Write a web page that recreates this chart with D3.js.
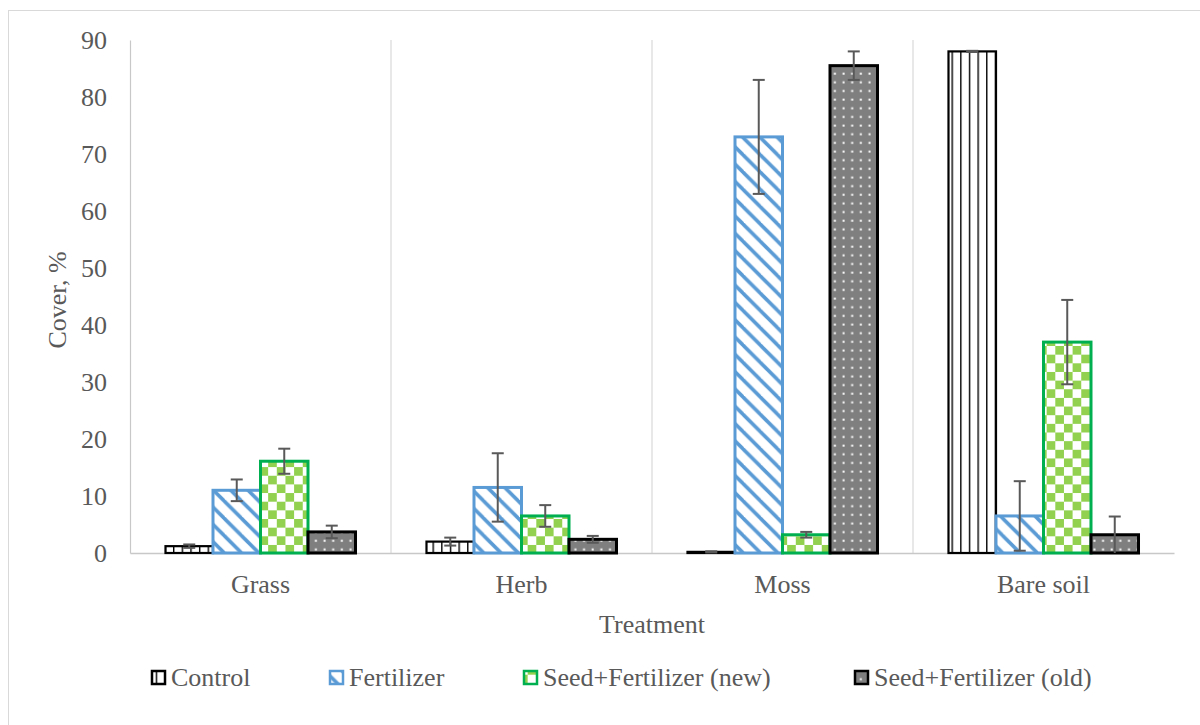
<!DOCTYPE html>
<html>
<head>
<meta charset="utf-8">
<script src="https://cdn.jsdelivr.net/npm/d3@7"></script>
<style>
  html, body { margin: 0; padding: 0; background: #fff; }
  svg { display: block; }
  text { font-family: "Liberation Serif", "Times New Roman", serif; fill: #595959; }
</style>
</head>
<body>
<svg id="chart" width="1200" height="725"></svg>
<script>
// Ground cover by vegetation type and treatment
const categories = ["Grass", "Herb", "Moss", "Bare soil"];
const seriesNames = ["Control", "Fertilizer", "Seed+Fertilizer (new)", "Seed+Fertilizer (old)"];

const controlValues = [1.2, 2.0, 0.2, 88.0];
const fertilizerValues = [11.0, 11.5, 73.0, 6.5];
const seedNewValues = [16.1, 6.5, 3.2, 37.0];
const seedOldValues = [3.7, 2.4, 85.5, 3.2];

const controlErrors = [0.3, 0.7, 0.1, 0.1];
const fertilizerErrors = [1.9, 6.0, 10.0, 6.1];
const seedNewErrors = [2.2, 1.9, 0.5, 7.4];
const seedOldErrors = [1.1, 0.6, 2.5, 3.2];

const yTicks = [0, 10, 20, 30, 40, 50, 60, 70, 80, 90];

const seriesValues = [controlValues, fertilizerValues, seedNewValues, seedOldValues];
const seriesErrors = [controlErrors, fertilizerErrors, seedNewErrors, seedOldErrors];

const svg = d3.select("#chart");

// outer frame of the chart area
svg.append("rect")
  .attr("x", 8.5).attr("y", 10.5)
  .attr("width", 1230).attr("height", 760)
  .attr("fill", "#fff").attr("stroke", "#d9d9d9").attr("stroke-width", 1);

// ---------- fill patterns ----------
const defs = svg.append("defs");
const P = 17.3; // tile size of the hatch patterns

// Control: narrow vertical lines
const pCtrl = defs.append("pattern").attr("id", "pat-control")
  .attr("patternUnits", "userSpaceOnUse").attr("width", P / 2).attr("height", P);
pCtrl.append("rect").attr("width", P / 2).attr("height", P).attr("fill", "#fff");
pCtrl.append("rect").attr("x", 0).attr("width", 1.4).attr("height", P).attr("fill", "#000");

// Fertilizer: wide downward diagonal
const pFert = defs.append("pattern").attr("id", "pat-fert")
  .attr("patternUnits", "userSpaceOnUse").attr("width", P).attr("height", P);
pFert.append("rect").attr("width", P).attr("height", P).attr("fill", "#fff");
[[-P, 0], [0, 0], [0, -P]].forEach(([dx, dy]) => {
  pFert.append("line")
    .attr("x1", dx).attr("y1", dy).attr("x2", dx + 2 * P).attr("y2", dy + 2 * P)
    .attr("stroke", "#5b9bd5").attr("stroke-width", 3.6);
});

// Seed+Fertilizer (new): large checkerboard
const pNew = defs.append("pattern").attr("id", "pat-new")
  .attr("patternUnits", "userSpaceOnUse").attr("width", P).attr("height", P);
pNew.append("rect").attr("width", P).attr("height", P).attr("fill", "#fff");
pNew.append("rect").attr("x", 0).attr("y", 0).attr("width", P / 2).attr("height", P / 2).attr("fill", "#92d050");
pNew.append("rect").attr("x", P / 2).attr("y", P / 2).attr("width", P / 2).attr("height", P / 2).attr("fill", "#92d050");

// Seed+Fertilizer (old): dotted grey
const pOld = defs.append("pattern").attr("id", "pat-old")
  .attr("patternUnits", "userSpaceOnUse").attr("width", P / 2).attr("height", P / 2);
pOld.append("rect").attr("width", P / 2).attr("height", P / 2).attr("fill", "#7f7f7f");
pOld.append("rect").attr("x", 3.5).attr("y", 3.5).attr("width", 2).attr("height", 2).attr("fill", "#fff");

const fills = ["url(#pat-control)", "url(#pat-fert)", "url(#pat-new)", "url(#pat-old)"];
const strokes = ["#000000", "#5b9bd5", "#00b050", "#000000"];
const strokeWidths = [2.2, 3, 3, 3];

// ---------- scales ----------
const x0 = d3.scaleBand().domain(categories).range([130, 1174]).paddingInner(0).paddingOuter(0);
const bw = x0.bandwidth();
const x1 = d3.scaleBand().domain(seriesNames).range([bw * 0.136, bw * 0.864]).padding(0);
const y = d3.scaleLinear().domain([0, 90]).range([553, 40]);

// category separators
const seps = categories.map(c => x0(c) + bw).slice(0, -1);
svg.append("g").selectAll("line").data(seps).join("line")
  .attr("x1", d => d).attr("x2", d => d)
  .attr("y1", y(90)).attr("y2", y(0))
  .attr("stroke", "#d9d9d9").attr("stroke-width", 1.2);

// y axis
const yAxis = svg.append("g").attr("transform", "translate(130,0)")
  .call(d3.axisLeft(y).tickValues(yTicks).tickSize(0).tickPadding(23));
yAxis.select(".domain").attr("stroke", "#c8c8c8").attr("stroke-width", 1.2);
yAxis.selectAll("text").style("font-family", "'Liberation Serif', serif")
  .style("font-size", "26px").attr("fill", "#595959").attr("dy", "0.33em");

// x axis
const xAxis = svg.append("g").attr("transform", `translate(0,${y(0)})`)
  .call(d3.axisBottom(x0).tickSize(0).tickPadding(22));
xAxis.select(".domain").attr("stroke", "#c8c8c8").attr("stroke-width", 1.5);
xAxis.selectAll("text").style("font-family", "'Liberation Serif', serif")
  .style("font-size", "26px").attr("fill", "#595959");

// bars
const rows = [];
categories.forEach((c, ci) => {
  seriesNames.forEach((s, si) => {
    rows.push({ cat: c, series: s, si, value: seriesValues[si][ci], err: seriesErrors[si][ci] });
  });
});

svg.append("g").selectAll("rect").data(rows).join("rect")
  .attr("x", d => x0(d.cat) + x1(d.series))
  .attr("y", d => y(d.value))
  .attr("width", x1.bandwidth())
  .attr("height", d => y(0) - y(d.value))
  .attr("fill", d => fills[d.si])
  .attr("stroke", d => strokes[d.si])
  .attr("stroke-width", d => strokeWidths[d.si]);

// error bars
const eb = svg.append("g").attr("stroke", "#595959").attr("stroke-width", 2);
rows.forEach(d => {
  const cx = x0(d.cat) + x1(d.series) + x1.bandwidth() / 2;
  const hi = y(d.value + d.err);
  const lo = y(Math.max(0, d.value - d.err));
  eb.append("line").attr("x1", cx).attr("x2", cx).attr("y1", hi).attr("y2", lo);
  eb.append("line").attr("x1", cx - 6).attr("x2", cx + 6).attr("y1", hi).attr("y2", hi);
  if (d.value - d.err > 0) {
    eb.append("line").attr("x1", cx - 6).attr("x2", cx + 6).attr("y1", lo).attr("y2", lo);
  }
});

// axis titles
svg.append("text")
  .attr("x", (130 + 1174) / 2).attr("y", 633)
  .attr("text-anchor", "middle").style("font-size", "26px")
  .text("Treatment");

svg.append("text")
  .attr("transform", "translate(66,300) rotate(-90)")
  .attr("text-anchor", "middle").style("font-size", "26px")
  .text("Cover, %");

// legend
const legendX = [151, 329, 523, 854];
const legend = svg.append("g");
seriesNames.forEach((s, i) => {
  legend.append("rect")
    .attr("x", legendX[i] + 1).attr("y", 671)
    .attr("width", 13).attr("height", 13)
    .attr("fill", fills[i]).attr("stroke", strokes[i]).attr("stroke-width", 2.5);
  legend.append("text")
    .attr("x", legendX[i] + 20).attr("y", 686)
    .style("font-size", "26px")
    .text(s);
});
</script>
</body>
</html>
